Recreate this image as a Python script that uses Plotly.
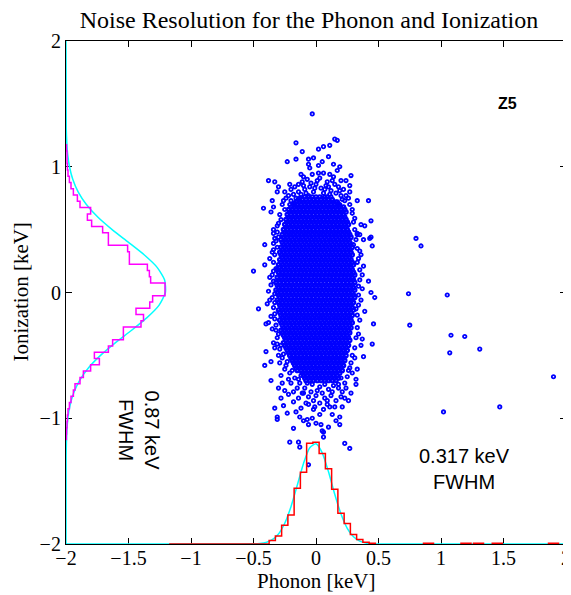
import numpy as np
import plotly.graph_objects as go

# ---------------- data ----------------
title_text = "Noise Resolution for the Phonon and Ionization"
x_ticks = [-2, -1.5, -1, -0.5, 0, 0.5, 1, 1.5, 2]
y_ticks = [-2, -1, 0, 1, 2]

# dense core of the event cloud, one list of phonon values (0.01 keV) per ionization row (0.01 keV)
core_ion_levels = [76, 74, 72, 70, 68, 66, 64, 62, 60, 58, 56, 54, 52, 50, 48, 46, 44, 42, 40, 38,
                   36, 34, 32, 30, 28, 26, 24, 22, 20, 18, 16, 14, 12, 10, 8, 6, 4, 2, 0, -2,
                   -4, -6, -8, -10, -12, -14, -16, -18, -20, -22, -24, -26, -28, -30, -32, -34, -36, -38, -40, -42,
                   -44, -46, -48, -50, -52, -54, -56, -58, -60, -62, -64, -66, -68, -70]
core_phonon_rows = [
    [-9, -6, -3, 0, 3, 7, 9],
    [-14, -11, -8, -5, -2, 1, 4, 7, 10, 13],
    [-16, -13, -10, -7, -4, -1, 2, 5, 8, 11, 14, 17],
    [-18, -15, -12, -9, -6, -3, 0, 3, 6, 9, 12, 15, 18],
    [-20, -17, -14, -11, -8, -5, -2, 1, 4, 7, 10, 13, 16, 19, 22],
    [-22, -19, -16, -13, -10, -7, -4, -1, 2, 5, 8, 11, 14, 17, 20, 23],
    [-21, -18, -15, -12, -9, -6, -3, 0, 3, 6, 9, 12, 15, 18, 21, 24],
    [-23, -20, -17, -14, -11, -8, -5, -2, 1, 4, 7, 10, 13, 16, 19, 22],
    [-22, -19, -16, -13, -10, -7, -4, -1, 2, 5, 8, 11, 14, 17, 20, 23],
    [-24, -21, -18, -15, -12, -9, -6, -3, 0, 3, 6, 9, 12, 15, 18, 21, 24],
    [-23, -20, -17, -14, -11, -8, -5, -2, 1, 4, 7, 10, 13, 16, 19, 22, 25],
    [-25, -22, -19, -16, -13, -10, -7, -4, -1, 2, 5, 8, 11, 14, 17, 20, 23, 26],
    [-24, -21, -18, -15, -12, -9, -6, -3, 0, 3, 6, 9, 12, 15, 18, 21, 24],
    [-26, -23, -20, -17, -14, -11, -8, -5, -2, 1, 4, 7, 10, 13, 16, 19, 22, 25],
    [-25, -22, -19, -16, -13, -10, -7, -4, -1, 2, 5, 8, 11, 14, 17, 20, 23, 26],
    [-27, -24, -21, -18, -15, -12, -9, -6, -3, 0, 3, 6, 9, 12, 15, 18, 21, 24, 27],
    [-26, -23, -20, -17, -14, -11, -8, -5, -2, 1, 4, 7, 10, 13, 16, 19, 22, 25, 28],
    [-28, -25, -22, -19, -16, -13, -10, -7, -4, -1, 2, 5, 8, 11, 14, 17, 20, 23, 26],
    [-27, -24, -21, -18, -15, -12, -9, -6, -3, 0, 3, 6, 9, 12, 15, 18, 21, 24, 27],
    [-26, -23, -20, -17, -14, -11, -8, -5, -2, 1, 4, 7, 10, 13, 16, 19, 22, 25, 28],
    [-28, -25, -22, -19, -16, -13, -10, -7, -4, -1, 2, 5, 8, 11, 14, 17, 20, 23, 26, 29],
    [-27, -24, -21, -18, -15, -12, -9, -6, -3, 0, 3, 6, 9, 12, 15, 18, 21, 24, 27],
    [-29, -26, -23, -20, -17, -14, -11, -8, -5, -2, 1, 4, 7, 10, 13, 16, 19, 22, 25, 28],
    [-28, -25, -22, -19, -16, -13, -10, -7, -4, -1, 2, 5, 8, 11, 14, 17, 20, 23, 26, 29],
    [-27, -24, -21, -18, -15, -12, -9, -6, -3, 0, 3, 6, 9, 12, 15, 18, 21, 24, 27],
    [-29, -26, -23, -20, -17, -14, -11, -8, -5, -2, 1, 4, 7, 10, 13, 16, 19, 22, 25, 28],
    [-28, -25, -22, -19, -16, -13, -10, -7, -4, -1, 2, 5, 8, 11, 14, 17, 20, 23, 26, 29],
    [-30, -27, -24, -21, -18, -15, -12, -9, -6, -3, 0, 3, 6, 9, 12, 15, 18, 21, 24, 27, 30],
    [-29, -26, -23, -20, -17, -14, -11, -8, -5, -2, 1, 4, 7, 10, 13, 16, 19, 22, 25, 28],
    [-31, -28, -25, -22, -19, -16, -13, -10, -7, -4, -1, 2, 5, 8, 11, 14, 17, 20, 23, 26, 29],
    [-30, -27, -24, -21, -18, -15, -12, -9, -6, -3, 0, 3, 6, 9, 12, 15, 18, 21, 24, 27, 30],
    [-29, -26, -23, -20, -17, -14, -11, -8, -5, -2, 1, 4, 7, 10, 13, 16, 19, 22, 25, 28, 31],
    [-31, -28, -25, -22, -19, -16, -13, -10, -7, -4, -1, 2, 5, 8, 11, 14, 17, 20, 23, 26, 29],
    [-30, -27, -24, -21, -18, -15, -12, -9, -6, -3, 0, 3, 6, 9, 12, 15, 18, 21, 24, 27, 30],
    [-32, -29, -26, -23, -20, -17, -14, -11, -8, -5, -2, 1, 4, 7, 10, 13, 16, 19, 22, 25, 28, 31],
    [-31, -28, -25, -22, -19, -16, -13, -10, -7, -4, -1, 2, 5, 8, 11, 14, 17, 20, 23, 26, 29],
    [-30, -27, -24, -21, -18, -15, -12, -9, -6, -3, 0, 3, 6, 9, 12, 15, 18, 21, 24, 27, 30],
    [-32, -29, -26, -23, -20, -17, -14, -11, -8, -5, -2, 1, 4, 7, 10, 13, 16, 19, 22, 25, 28, 31],
    [-31, -28, -25, -22, -19, -16, -13, -10, -7, -4, -1, 2, 5, 8, 11, 14, 17, 20, 23, 26, 29],
    [-30, -27, -24, -21, -18, -15, -12, -9, -6, -3, 0, 3, 6, 9, 12, 15, 18, 21, 24, 27, 30],
    [-29, -26, -23, -20, -17, -14, -11, -8, -5, -2, 1, 4, 7, 10, 13, 16, 19, 22, 25, 28, 31],
    [-31, -28, -25, -22, -19, -16, -13, -10, -7, -4, -1, 2, 5, 8, 11, 14, 17, 20, 23, 26, 29],
    [-30, -27, -24, -21, -18, -15, -12, -9, -6, -3, 0, 3, 6, 9, 12, 15, 18, 21, 24, 27, 30],
    [-29, -26, -23, -20, -17, -14, -11, -8, -5, -2, 1, 4, 7, 10, 13, 16, 19, 22, 25, 28],
    [-28, -25, -22, -19, -16, -13, -10, -7, -4, -1, 2, 5, 8, 11, 14, 17, 20, 23, 26, 29],
    [-30, -27, -24, -21, -18, -15, -12, -9, -6, -3, 0, 3, 6, 9, 12, 15, 18, 21, 24, 27, 30],
    [-29, -26, -23, -20, -17, -14, -11, -8, -5, -2, 1, 4, 7, 10, 13, 16, 19, 22, 25, 28],
    [-28, -25, -22, -19, -16, -13, -10, -7, -4, -1, 2, 5, 8, 11, 14, 17, 20, 23, 26, 29],
    [-27, -24, -21, -18, -15, -12, -9, -6, -3, 0, 3, 6, 9, 12, 15, 18, 21, 24, 27],
    [-29, -26, -23, -20, -17, -14, -11, -8, -5, -2, 1, 4, 7, 10, 13, 16, 19, 22, 25, 28],
    [-28, -25, -22, -19, -16, -13, -10, -7, -4, -1, 2, 5, 8, 11, 14, 17, 20, 23, 26, 29],
    [-27, -24, -21, -18, -15, -12, -9, -6, -3, 0, 3, 6, 9, 12, 15, 18, 21, 24, 27],
    [-26, -23, -20, -17, -14, -11, -8, -5, -2, 1, 4, 7, 10, 13, 16, 19, 22, 25, 28],
    [-28, -25, -22, -19, -16, -13, -10, -7, -4, -1, 2, 5, 8, 11, 14, 17, 20, 23, 26],
    [-27, -24, -21, -18, -15, -12, -9, -6, -3, 0, 3, 6, 9, 12, 15, 18, 21, 24, 27],
    [-26, -23, -20, -17, -14, -11, -8, -5, -2, 1, 4, 7, 10, 13, 16, 19, 22, 25],
    [-25, -22, -19, -16, -13, -10, -7, -4, -1, 2, 5, 8, 11, 14, 17, 20, 23, 26],
    [-24, -21, -18, -15, -12, -9, -6, -3, 0, 3, 6, 9, 12, 15, 18, 21, 24, 27],
    [-26, -23, -20, -17, -14, -11, -8, -5, -2, 1, 4, 7, 10, 13, 16, 19, 22, 25],
    [-25, -22, -19, -16, -13, -10, -7, -4, -1, 2, 5, 8, 11, 14, 17, 20, 23, 26],
    [-24, -21, -18, -15, -12, -9, -6, -3, 0, 3, 6, 9, 12, 15, 18, 21, 24],
    [-23, -20, -17, -14, -11, -8, -5, -2, 1, 4, 7, 10, 13, 16, 19, 22, 25],
    [-22, -19, -16, -13, -10, -7, -4, -1, 2, 5, 8, 11, 14, 17, 20, 23],
    [-21, -18, -15, -12, -9, -6, -3, 0, 3, 6, 9, 12, 15, 18, 21, 24],
    [-20, -17, -14, -11, -8, -5, -2, 1, 4, 7, 10, 13, 16, 19, 22],
    [-19, -16, -13, -10, -7, -4, -1, 2, 5, 8, 11, 14, 17, 20, 23],
    [-18, -15, -12, -9, -6, -3, 0, 3, 6, 9, 12, 15, 18, 21],
    [-17, -14, -11, -8, -5, -2, 1, 4, 7, 10, 13, 16, 19, 22],
    [-16, -13, -10, -7, -4, -1, 2, 5, 8, 11, 14, 17, 20],
    [-15, -12, -9, -6, -3, 0, 3, 6, 9, 12, 15, 18, 21],
    [-11, -8, -5, -2, 1, 4, 7, 10, 13, 16, 19],
    [-10, -7, -4, -1, 2, 5, 8, 11, 14, 17],
    [-9, -6, -3, 0, 3, 6, 9, 12, 15, 18],
    [-8, -5, -2, 1, 4, 7, 10, 13, 16],
]

# individual events around the core (phonon, ionization) in 0.01 keV
halo_points = [
    (-3, 142), (15, 122), (17, 121), (-16, 119), (6, 116), (11, 117), (2, 114), (-11, 112), (10, 108), (-23, 104),
    (-16, 106), (-6, 106), (-2, 107), (-6, 102), (-5, 99), (5, 104), (14, 102), (2, 101), (19, 100), (17, 97),
    (-38, 89), (-33, 88), (-12, 94), (-10, 92), (-3, 94), (2, 95), (6, 95), (11, 94), (14, 92), (28, 93),
    (20, 89), (24, 89), (-21, 86), (-30, 84), (-31, 80), (27, 85), (27, 80),
    (-18, 78), (-14, 80), (-9, 82), (-5, 84), (0, 86), (4, 83), (8, 85), (12, 81), (16, 79), (20, 77),
    (-22, 77), (-11, 88), (-7, 90), (1, 89), (9, 88), (15, 86), (22, 82), (-17, 84), (-25, 80), (-2, 80),
    (6, 79), (-20, 82), (18, 84), (3, 91), (-14, 86), (24, 77), (11, 78), (-8, 79), (-4, 87), (13, 89),
    (-1, 83), (7, 82), (-12, 78), (19, 81), (-24, 75), (23, 73), (-16, 75), (-10, 85), (10, 84), (-6, 77),
    (-20, 73), (-17, 71), (21, 74), (16, 72), (12, 76), (-13, 75), (19, 70), (-21, 70),
    (-35, 73), (-42, 67), (-34, 68), (-36, 64), (-41, 38), (-41, 22), (-50, 17), (-34, 47), (-34, 50), (-34, 39),
    (-34, 34), (-46, -13), (-39, -9), (-40, -25), (-38, -24), (-40, -47), (-36, -55), (-41, -58), (-36, -70), (-34, -40),
    (-33, -17), (-33, -1),
    (-27, 70), (-29, 62), (-30, 55), (-31, 48), (-32, 41), (-33, 30), (-34, 24), (-35, 14), (-36, 6), (-35, -4),
    (-34, -12), (-33, -21), (-32, -30), (-31, -36), (-29, -45), (-27, -52), (-24, -58), (-21, -64), (-17, -68), (-25, 66),
    (-28, 58), (-30, 44), (-31, 36), (-32, 19), (-34, 9), (-33, -8), (-32, -26), (-30, -33), (-28, -42), (-26, -49),
    (-23, -55), (-19, -62), (-37, 27), (-38, 1), (-36, -19), (-33, -44), (-29, -56), (-26, 73), (-31, 53), (-33, 43),
    (-35, 32), (-34, 17), (-37, -6), (-35, -29), (-31, -41), (-25, -61), (-22, -69), (-28, -66), (-30, -50), (-37, 12),
    (33, 73), (42, 73), (44, 57), (36, 54), (39, 53), (43, 43), (44, 44), (38, 42), (45, 37), (33, 46),
    (35, 46), (42, 9), (44, 0), (37, 3), (33, 24), (35, 33), (47, -4), (46, -25), (45, -41), (38, -51),
    (32, -69), (32, -73),
    (27, 70), (29, 63), (30, 56), (31, 50), (32, 42), (33, 35), (34, 27), (35, 18), (35, 10), (34, -2),
    (34, -10), (33, -18), (33, -28), (32, -36), (31, -44), (29, -50), (28, -56), (26, -62), (25, -67), (23, -72),
    (29, 66), (31, 59), (33, 47), (36, 30), (37, 14), (36, -6), (35, -22), (34, -33), (31, -52), (27, -60),
    (38, 21), (39, -15), (37, -37), (33, -61), (26, 75), (30, 38), (34, 5), (32, -13), (36, -42), (29, -64),
    (20, -68), (18, -73),
    (-13, -72), (-9, -76), (-4, -79), (1, -78), (5, -80), (10, -77), (14, -74), (18, -76), (21, -79), (-11, -80),
    (-6, -83), (0, -82), (7, -84), (12, -82), (16, -86), (-15, -76), (-2, -86), (3, -88), (9, -86), (-8, -88),
    (20, -83), (-18, -79), (-14, -69), (-12, -66), (-3, -73), (7, -73), (13, -79), (-7, -72), (3, -75), (24, -76),
    (-20, -72), (-1, -91), (11, -91), (-12, -92), (6, -93),
    (-18, -87), (-14, -84), (-10, -80), (-6, -89), (-2, -93), (3, -97), (9, -89), (13, -97), (15, -91), (19, -99),
    (23, -84), (21, -91), (19, -105), (23, -120), (27, -124), (10, -107), (6, -111), (6, -115), (4, -105), (-6, -105),
    (-3, -100), (-7, -101), (-10, -102), (-13, -99), (-18, -108), (-23, -96), (-26, -90), (-33, -92), (-31, -99), (-31, -101),
    (-21, -119), (-14, -119), (-13, -123), (-6, -137), (5, -110), (-28, -84), (-25, -78), (-22, -81), (-30, -76), (-27, -72),
    (26, -86), (28, -80), (-16, -95), (16, -102), (0, -104),
    (80, 43), (84, 37), (74, -1), (105, -2), (75, -26), (108, -34), (119, -35), (131, -45), (107, -48), (190, -67),
    (147, -91), (102, -95),
]

# phonon histogram (bin centres in keV, drawn height above the -2 baseline)
phonon_bin_width = 0.05
phonon_bin_first, phonon_bin_last = -1.15, 0.45
phonon_hist_height = [0, 0, 0, 0, 0, 0, 0, 0, 0, 0, 0, 0, 0, 0, 0, 0,
                      0.028, 0.063, 0.150, 0.231, 0.443, 0.571, 0.802, 0.810, 0.720,
                      0.598, 0.435, 0.245, 0.163, 0.076, 0.035, 0.013, 0.005]
phonon_tail_centers = [0.9, 1.2, 1.3, 1.45, 1.9]
phonon_tail_height = [0.005, 0.005, 0.005, 0.005, 0.005]

# phonon gaussian fit (keV, height above baseline)
phonon_fit_x = [-2.0, -0.6, -0.5, -0.45, -0.4, -0.35, -0.3, -0.25, -0.2, -0.15, -0.1, -0.05, 0.0,
                0.05, 0.1, 0.15, 0.2, 0.25, 0.3, 0.35, 0.4, 0.45, 0.5, 0.6, 2.0]
phonon_fit_h = [0, 0, 0.001, 0.004, 0.012, 0.034, 0.08, 0.165, 0.297, 0.467, 0.641, 0.766, 0.798,
                0.725, 0.574, 0.396, 0.238, 0.125, 0.057, 0.023, 0.008, 0.002, 0, 0, 0]

# ionization histogram (bin centres in keV, drawn width to the right of the -2 baseline)
ion_bin_width = 0.05
ion_bin_first, ion_bin_last = -1.15, 1.15
ion_hist_width = [0.003, 0.005, 0.008, 0.011, 0.016, 0.027, 0.040, 0.059, 0.072, 0.112,
                  0.139, 0.197, 0.267, 0.227, 0.339, 0.373, 0.459, 0.459, 0.600, 0.620,
                  0.560, 0.670, 0.693, 0.792, 0.792, 0.677, 0.667, 0.651, 0.507, 0.507,
                  0.493, 0.339, 0.339, 0.293, 0.205, 0.171, 0.197, 0.112, 0.091, 0.059,
                  0.040, 0.027, 0.016, 0.011, 0.008, 0.008, 0.004]

# ionization gaussian fit
ion_fit_y = [-2.0, -1.3, -1.2, -1.1, -1.0, -0.9, -0.8, -0.7, -0.6, -0.5, -0.4, -0.3, -0.2, -0.1, 0.0,
             0.1, 0.2, 0.3, 0.4, 0.5, 0.6, 0.7, 0.8, 0.9, 1.0, 1.1, 1.2, 1.3, 2.0]
ion_fit_w = [0, 0.001, 0.003, 0.007, 0.015, 0.032, 0.061, 0.108, 0.179, 0.276, 0.394, 0.525, 0.648, 0.745, 0.795,
             0.789, 0.729, 0.625, 0.498, 0.369, 0.254, 0.163, 0.097, 0.054, 0.028, 0.013, 0.006, 0.002, 0]

labels_phonon = ["0.317 keV", "FWHM"]
labels_ion = ["0.87 keV", "FWHM"]
detector_label = "Z5"

# ---------------- build ----------------
AX_MIN = -2.0
serif = "Liberation Serif"
sans = "Liberation Sans"

core_x, core_y = [], []
for lvl, row in zip(core_ion_levels, core_phonon_rows):
    for v in row:
        core_x.append(v / 100.0)
        core_y.append(lvl / 100.0)
halo_x = [p[0] / 100.0 for p in halo_points]
halo_y = [p[1] / 100.0 for p in halo_points]

fig = go.Figure()
fig.add_trace(go.Scatter(
    x=core_x, y=core_y, mode="markers",
    marker=dict(symbol="circle-open", size=3.4, color="#0000ff", line=dict(width=2.2, color="#0000ff")),
    hoverinfo="skip", showlegend=False))
fig.add_trace(go.Scatter(
    x=halo_x, y=halo_y, mode="markers",
    marker=dict(symbol="circle-open", size=3.4, color="#0000ff", line=dict(width=1.8, color="#0000ff")),
    hoverinfo="skip", showlegend=False))

# fits
fig.add_trace(go.Scatter(x=phonon_fit_x, y=[AX_MIN + h for h in phonon_fit_h], mode="lines",
                         line=dict(color="#00ffff", width=1.5, shape="spline", smoothing=0.6),
                         hoverinfo="skip", showlegend=False))
fig.add_trace(go.Scatter(x=[AX_MIN + w for w in ion_fit_w], y=ion_fit_y, mode="lines",
                         line=dict(color="#00ffff", width=1.5, shape="spline", smoothing=0.6),
                         hoverinfo="skip", showlegend=False))

# phonon histogram stairs
n_ph = len(phonon_hist_height)
ph_centers = np.round(np.linspace(phonon_bin_first, phonon_bin_last, n_ph), 4)
ph_edges = list(ph_centers - phonon_bin_width / 2) + [ph_centers[-1] + phonon_bin_width / 2]
ph_levels = [AX_MIN + h for h in phonon_hist_height] + [AX_MIN]
fig.add_trace(go.Scatter(x=ph_edges, y=ph_levels, mode="lines",
                         line=dict(color="#ff0000", width=1.5, shape="hv"),
                         hoverinfo="skip", showlegend=False))
tx, ty = [], []
for c, h in zip(phonon_tail_centers, phonon_tail_height):
    tx += [c - 0.04, c - 0.04, c + 0.04, c + 0.04, None]
    ty += [AX_MIN, AX_MIN + h, AX_MIN + h, AX_MIN, None]
fig.add_trace(go.Scatter(x=tx, y=ty, mode="lines", line=dict(color="#ff0000", width=1.5),
                         hoverinfo="skip", showlegend=False))

# ionization histogram stairs (horizontal)
n_io = len(ion_hist_width)
io_centers = np.round(np.linspace(ion_bin_first, ion_bin_last, n_io), 4)
io_edges = list(io_centers - ion_bin_width / 2) + [io_centers[-1] + ion_bin_width / 2]
io_levels = [AX_MIN + w for w in ion_hist_width] + [AX_MIN]
fig.add_trace(go.Scatter(x=io_levels, y=io_edges, mode="lines",
                         line=dict(color="#ff00ff", width=1.5, shape="vh"),
                         hoverinfo="skip", showlegend=False))

axis_common = dict(
    range=[-2, 2], showgrid=False, zeroline=False, automargin=False,
    showline=True, linecolor="black", linewidth=1.2, mirror="ticks",
    ticks="inside", ticklen=6, tickwidth=1, tickcolor="black",
    tickfont=dict(family=serif, size=20, color="black"),
    layer="below traces", fixedrange=True,
)
fig.update_xaxes(tickvals=x_ticks, ticktext=[("\u2212" if v < 0 else "") + f"{abs(v):g}" for v in x_ticks],
                 ticklabelstandoff=-4, **axis_common)
fig.update_yaxes(tickvals=y_ticks, ticktext=[("\u2212" if v < 0 else "") + f"{abs(v):g}" for v in y_ticks],
                 **axis_common)

# the page body adds an 8 px offset, so the figure is sized to fit the 571x595 window
FIG_W, FIG_H = 563, 587
fig.update_layout(
    width=FIG_W, height=FIG_H,
    margin=dict(l=58, r=5, t=33, b=51, autoexpand=False),
    paper_bgcolor="white", plot_bgcolor="white",
    title=dict(text=title_text, font=dict(family=serif, size=24, color="black"),
               x=301 / FIG_W, xref="container", xanchor="center",
               y=1 - 12 / FIG_H, yref="container", yanchor="middle"),
    showlegend=False,
    annotations=[
        dict(text="Phonon [keV]", xref="paper", yref="paper", x=0.5, y=-0.073,
             xanchor="center", yanchor="middle", showarrow=False,
             font=dict(family=serif, size=21, color="black")),
        dict(text="Ionization [keV]", xref="paper", yref="paper", x=-0.092, y=0.5,
             xanchor="center", yanchor="middle", textangle=-90, showarrow=False,
             font=dict(family=serif, size=21, color="black")),
        dict(text="<b>" + detector_label + "</b>", x=1.53, y=1.50, xref="x", yref="y",
             showarrow=False, font=dict(family=sans, size=16, color="black")),
        dict(text="<br>".join(labels_phonon), x=1.19, y=-1.40, xref="x", yref="y",
             showarrow=False, align="center", font=dict(family=sans, size=20, color="black")),
        dict(text="<br>".join(labels_ion), x=-1.42, y=-1.094, xref="x", yref="y",
             showarrow=False, align="center", textangle=90, font=dict(family=sans, size=20, color="black")),
    ],
)

fig.write_html("out.html")
